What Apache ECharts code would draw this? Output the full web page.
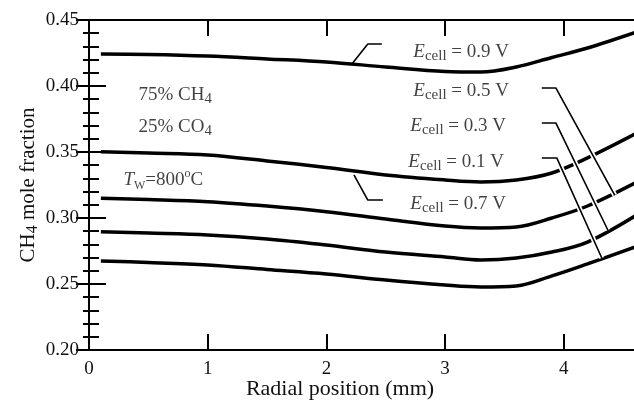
<!DOCTYPE html>
<html lang="en">
<head>
	<meta charset="UTF-8">
	<title>CH4 mole fraction</title>
	<style>
		html, body { margin: 0; padding: 0; background: #fff; }
		#chart { width: 634px; height: 405px; }
	</style>
</head>
<body>
	<div id="chart"></div>
	<script src="https://cdn.jsdelivr.net/npm/echarts@6/dist/echarts.min.js"></script>
	<script>
		// radial positions (mm) where the curves were read
		var xPos = [0.1, 0.5, 1, 1.5, 2, 2.5, 3, 3.3, 3.6, 3.9, 4.2, 4.6];
		// CH4 mole fraction per cell voltage
		var e09 = [0.4242, 0.4239, 0.4227, 0.4205, 0.4182, 0.4144, 0.4110, 0.4106, 0.4144, 0.4216, 0.4288, 0.4405];
		var e07 = [0.3502, 0.3492, 0.3477, 0.3432, 0.3383, 0.3326, 0.3288, 0.3273, 0.3288, 0.3341, 0.3455, 0.3636];
		var e05 = [0.3149, 0.3140, 0.3124, 0.3091, 0.3048, 0.2992, 0.2939, 0.2924, 0.2932, 0.3000, 0.3091, 0.3265];
		var e03 = [0.2896, 0.2886, 0.2871, 0.2841, 0.2795, 0.2742, 0.2705, 0.2682, 0.2697, 0.2742, 0.2818, 0.3015];
		var e01 = [0.2674, 0.2663, 0.2644, 0.2610, 0.2576, 0.2530, 0.2492, 0.2477, 0.2485, 0.2561, 0.2652, 0.2780];

		var xTicks = [0, 1, 2, 3, 4];
		var yTicks = ['0.20', '0.25', '0.30', '0.35', '0.40', '0.45'];

		// leader lines from labels to curves (data coords)
		var lead09 = [[2.215, 0.4167], [2.349, 0.4318], [2.467, 0.4318]];
		var lead07 = [[2.232, 0.3326], [2.349, 0.3136], [2.476, 0.3136]];
		var lead05 = [[3.815, 0.3985], [3.933, 0.3985], [4.429, 0.3174]];
		var lead03 = [[3.815, 0.3720], [3.933, 0.3720], [4.371, 0.2909]];
		var lead01 = [[3.815, 0.3455], [3.941, 0.3455], [4.320, 0.2697]];

		// text annotations: x, y, rich text
		var notes = [
			[2.728, 0.4258, '{e|E}{s|cell}{t| = 0.9 V}'],
			[2.728, 0.3962, '{e|E}{s|cell}{t| = 0.5 V}'],
			[2.703, 0.3697, '{e|E}{s|cell}{t| = 0.3 V}'],
			[2.686, 0.3424, '{e|E}{s|cell}{t| = 0.1 V}'],
			[2.703, 0.3106, '{e|E}{s|cell}{t| = 0.7 V}'],
			[0.413, 0.3932, '{t|75% CH}{s|4}'],
			[0.413, 0.3690, '{t|25% CO}{s|4}'],
			[0.286, 0.3288, '{e|T}{w|W}{t|=800}{o|o}{t|C}']
		];

		var font = 'Liberation Serif';

		function pairs(ys) {
			return xPos.map(function (x, i) { return [x, ys[i]]; });
		}

		function curve(ys) {
			return {
				type: 'line', data: pairs(ys), smooth: 0.35, symbol: 'none', z: 2,
				lineStyle: { color: '#000', width: 3.5 }
			};
		}

		function leader(pts, halo) {
			return {
				type: 'line', data: pts, symbol: 'none', z: halo ? 3 : 4, silent: true,
				lineStyle: { color: halo ? '#fff' : '#000', width: halo ? 5 : 1.6 }
			};
		}

		var series = [curve(e09), curve(e07), curve(e05), curve(e03), curve(e01)];
		[lead05, lead03, lead01].forEach(function (p) { series.push(leader(p, true)); });
		[lead09, lead07, lead05, lead03, lead01].forEach(function (p) { series.push(leader(p, false)); });

		series.push({
			type: 'scatter', symbolSize: 1, z: 5, silent: true,
			itemStyle: { color: 'rgba(0,0,0,0)' },
			data: notes.map(function (n) { return { value: [n[0], n[1]], txt: n[2] }; }),
			label: {
				show: true, position: 'right', distance: 0,
				formatter: function (p) { return p.data.txt; },
				rich: {
					t: { fontFamily: font, fontSize: 19, color: '#111', lineHeight: 24, verticalAlign: 'middle' },
					e: { fontFamily: font, fontSize: 19, fontStyle: 'italic', color: '#111', lineHeight: 24, verticalAlign: 'middle' },
					s: { fontFamily: font, fontSize: 15, color: '#111', lineHeight: 24, verticalAlign: 'bottom' },
					w: { fontFamily: font, fontSize: 12, color: '#111', lineHeight: 24, verticalAlign: 'bottom' },
					o: { fontFamily: font, fontSize: 12, color: '#111', lineHeight: 24, verticalAlign: 'top' }
				}
			}
		});

		var axisLine = { show: true, lineStyle: { color: '#000', width: 2 } };

		var option = {
			animation: false,
			backgroundColor: '#fff',
			grid: { left: 89, top: 20, right: -1, bottom: 55, containLabel: false, outerBoundsMode: 'none' },
			xAxis: [{
				type: 'value', min: 0, max: 4.6, interval: 1, position: 'bottom',
				axisLine: axisLine,
				axisTick: { inside: true, length: 16, lineStyle: { color: '#000', width: 2 } },
				axisLabel: {
					margin: 10, showMaxLabel: false, fontFamily: font, fontSize: 19, color: '#111',
					formatter: function (v) { return xTicks.indexOf(v) >= 0 ? String(v) : ''; }
				},
				splitLine: { show: false },
				name: 'Radial position (mm)', nameLocation: 'middle', nameGap: 28, nameMoveOverlap: false,
				nameTextStyle: { fontFamily: font, fontSize: 22, color: '#111', padding: [0, 44, 0, 0] }
			}, {
				type: 'value', min: 0, max: 4.6, interval: 1, position: 'top',
				axisLine: axisLine,
				axisTick: { inside: true, length: 16, lineStyle: { color: '#000', width: 2 } },
				axisLabel: { show: false }, splitLine: { show: false }
			}],
			yAxis: [{
				type: 'value', min: 0.2, max: 0.45, interval: 0.05, position: 'left',
				axisLine: axisLine,
				axisTick: { inside: true, length: 17, lineStyle: { color: '#000', width: 2 } },
				minorTick: { show: true, splitNumber: 5, length: 10, lineStyle: { color: '#000', width: 2 } },
				axisLabel: {
					margin: 10, fontFamily: font, fontSize: 19, color: '#111',
					formatter: function (v) {
						var s = v.toFixed(2);
						return yTicks.indexOf(s) >= 0 ? s : '';
					}
				},
				splitLine: { show: false },
				name: 'CH{s|4} mole fraction', nameLocation: 'middle', nameGap: 48, nameMoveOverlap: false,
				nameTextStyle: {
					fontFamily: font, fontSize: 21, color: '#111',
					rich: { s: { fontFamily: font, fontSize: 16, color: '#111', verticalAlign: 'bottom', lineHeight: 26 } }
				}
			}, {
				type: 'value', min: 0.2, max: 0.45, interval: 0.05, position: 'right',
				axisLine: axisLine,
				axisTick: { inside: true, length: 13, lineStyle: { color: '#000', width: 2 } },
				minorTick: { show: true, splitNumber: 5, length: 6, lineStyle: { color: '#000', width: 2 } },
				axisLabel: { show: false }, splitLine: { show: false }
			}],
			series: series
		};

		var myChart = echarts.init(document.getElementById('chart'));
		myChart.setOption(option);
	</script>
</body>
</html>
